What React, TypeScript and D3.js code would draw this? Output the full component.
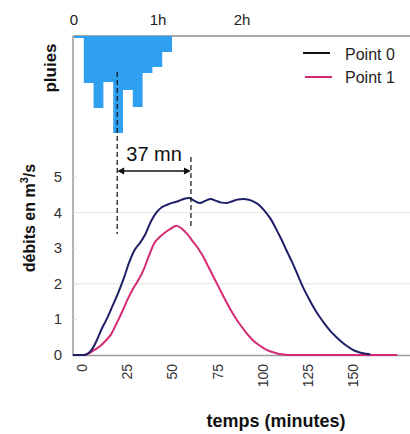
import React from 'react';
import * as d3 from 'd3';

// Hyetograph (rain) data
const rainStarts = [0, 7, 14, 21, 28, 35, 42, 49, 56, 63]; // minutes
const rainStep = 7;
const rainValues = [2, 47, 72, 46, 97, 54, 71, 37, 31, 16];
const topTicks = [0, 60, 120];
const topTickLabels = ['0', '1h', '2h'];

// Hydrographs
const p0Times = [-3, 0, 3, 5, 8, 10, 13, 16, 19, 22, 25, 28, 31, 34, 37, 40, 43, 46, 49, 52, 55, 58, 61, 64, 67, 70, 73, 76, 79, 82, 85, 88, 91, 94, 97, 100, 103, 106, 109, 112, 115, 118, 121, 124, 127, 130, 133, 136, 139, 142, 145, 148, 151, 154, 157, 161];
const p0Values = [0, 0, 0, 0.03, 0.2, 0.4, 0.75, 1.05, 1.4, 1.75, 2.15, 2.6, 2.95, 3.15, 3.4, 3.75, 4.0, 4.15, 4.22, 4.28, 4.32, 4.38, 4.41, 4.33, 4.27, 4.33, 4.38, 4.33, 4.28, 4.27, 4.32, 4.37, 4.38, 4.36, 4.3, 4.2, 4.03, 3.83, 3.55, 3.25, 2.92, 2.6, 2.25, 1.9, 1.6, 1.32, 1.08, 0.87, 0.68, 0.52, 0.38, 0.26, 0.16, 0.09, 0.05, 0.02];
const p1Times = [-3, 0, 3, 6, 9, 12, 15, 18, 21, 24, 27, 30, 33, 36, 39, 42, 45, 48, 51, 54, 57, 60, 63, 66, 69, 72, 75, 78, 81, 84, 87, 90, 93, 96, 99, 102, 105, 108, 111, 114, 117, 176];
const p1Values = [0, 0, 0, 0.05, 0.15, 0.25, 0.4, 0.58, 0.88, 1.2, 1.55, 1.85, 2.1, 2.4, 2.8, 3.15, 3.32, 3.45, 3.55, 3.63, 3.55, 3.4, 3.2, 3.0, 2.75, 2.45, 2.15, 1.85, 1.55, 1.27, 1.02, 0.8, 0.6, 0.43, 0.3, 0.2, 0.12, 0.07, 0.03, 0.01, 0, 0];

const seriesNames = ['Point 0', 'Point 1'];
const xTicks = [0, 25, 50, 75, 100, 125, 150];
const yTicks = [0, 1, 2, 3, 4, 5];
const gridValues = [2, 4];
const lagStart = 21.4;
const lagEnd = 62.1;
const lagLabel = '37 mn';

const FONT = 'Liberation Sans, Arial, sans-serif';
const NAVY = '#1f1f68';
const MAGENTA = '#d52a74';
const BLUE = '#2f9ff0';

export default function App() {
  const x = d3.scaleLinear().domain([-3, 183]).range([73, 410]);
  const xl = d3.scaleLinear().domain([0, 150]).range([82, 353]);
  const y = d3.scaleLinear().domain([0, 5]).range([355, 177]);
  const xr = d3.scaleLinear().domain([0, 240]).range([74, 410]);
  const yr = d3.scaleLinear().domain([0, 100]).range([36, 136]);

  const line = d3
    .line<[number, number]>()
    .x((d) => x(d[0]))
    .y((d) => y(d[1]))
    .curve(d3.curveMonotoneX);

  const p0 = line(p0Times.map((t, i) => [t, p0Values[i]] as [number, number])) || '';
  const p1 = line(p1Times.map((t, i) => [t, p1Values[i]] as [number, number])) || '';

  const rainPts: [number, number][] = rainStarts.map((t, i) => [t, rainValues[i]]);
  rainPts.push([rainStarts[rainStarts.length - 1] + rainStep, 0]);
  const rainArea =
    d3
      .area<[number, number]>()
      .x((d) => xr(d[0]))
      .y0(yr(0))
      .y1((d) => yr(d[1]))
      .curve(d3.curveStepAfter)(rainPts) || '';

  const arrowY = 171;

  return (
    <svg
      width={410}
      height={434}
      style={{ position: 'absolute', left: 0, top: 0, background: '#fff' }}
      fontFamily={FONT}
    >
      <rect x={0} y={0} width={410} height={434} fill="#fff" />
      {gridValues.map((g) => (
        <line key={g} x1={73} x2={410} y1={y(g)} y2={y(g)} stroke="#e4e4e4" strokeWidth={1} />
      ))}
      <line x1={73} x2={410} y1={36} y2={36} stroke="#a8a8a8" strokeWidth={2} />
      <path d={rainArea} fill={BLUE} />
      {topTicks.map((t, i) => (
        <text key={t} x={xr(t)} y={25} fontSize={15} textAnchor="middle" fill="#222">
          {topTickLabels[i]}
        </text>
      ))}
      <line x1={73} x2={73} y1={36} y2={356} stroke="#9a9a9a" strokeWidth={1.5} />
      <line x1={72} x2={410} y1={355.5} y2={355.5} stroke="#9a9a9a" strokeWidth={1.5} />
      {yTicks.map((v) => (
        <g key={v}>
          <line x1={73} x2={77} y1={y(v)} y2={y(v)} stroke="#e0e0e0" />
          <text x={62} y={y(v) + 5} fontSize={15} textAnchor="end" fill="#333">
            {v}
          </text>
        </g>
      ))}
      {xTicks.map((t) => (
        <text
          key={t}
          transform={`translate(${xl(t) + 5},364) rotate(-90)`}
          fontSize={14}
          textAnchor="end"
          fill="#333"
        >
          {t}
        </text>
      ))}
      <path d={p1} fill="none" stroke={MAGENTA} strokeWidth={2} />
      <path d={p0} fill="none" stroke={NAVY} strokeWidth={2} />
      <line x1={x(lagStart)} x2={x(lagStart)} y1={72} y2={234} stroke="#111" strokeWidth={1.2} strokeDasharray="5,3" />
      <line x1={x(lagEnd)} x2={x(lagEnd)} y1={157} y2={227} stroke="#111" strokeWidth={1.2} strokeDasharray="5,3" />
      <line x1={x(lagStart) + 4} x2={x(lagEnd) - 4} y1={arrowY} y2={arrowY} stroke="#111" strokeWidth={1.5} />
      <path
        d={`M${x(lagStart)},${arrowY} l7,-3.5 v7 z M${x(lagEnd)},${arrowY} l-7,-3.5 v7 z`}
        fill="#111"
      />
      <text x={(x(lagStart) + x(lagEnd)) / 2} y={161} fontSize={20} textAnchor="middle" fill="#111">
        {lagLabel}
      </text>
      <line x1={303} x2={330} y1={53} y2={53} stroke="#111" strokeWidth={2} />
      <text x={345} y={59.5} fontSize={16} fill="#222">
        {seriesNames[0]}
      </text>
      <line x1={305} x2={332} y1={77} y2={77} stroke={MAGENTA} strokeWidth={2} />
      <text x={345} y={83} fontSize={16} fill="#222">
        {seriesNames[1]}
      </text>
      <text transform="translate(56,68) rotate(-90)" fontSize={17} fontWeight="bold" textAnchor="middle" fill="#111">
        pluies
      </text>
      <text transform="translate(35,218) rotate(-90)" fontSize={16} fontWeight="bold" textAnchor="middle" fill="#111">
        débits en m<tspan dy={-7} fontSize={11}>3</tspan>
        <tspan dy={7}>/s</tspan>
      </text>
      <text x={276} y={427} fontSize={18} fontWeight="bold" textAnchor="middle" fill="#111">
        temps (minutes)
      </text>
    </svg>
  );
}
